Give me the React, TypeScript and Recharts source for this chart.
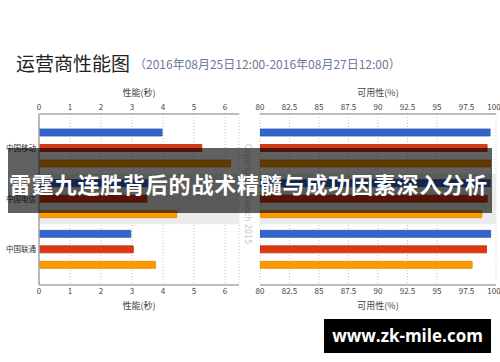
import { Bar, BarChart, CartesianGrid, ReferenceArea, XAxis, YAxis } from "recharts";

const carriers = ["中国移动", "中国电信", "中国联通"];

// performance (seconds), three series per carrier: blue / red / orange
const perfBlue = [3.97, 3.5, 2.96];
const perfRed = [5.25, 3.48, 3.04];
const perfOrange = [6.18, 4.44, 3.76];

// availability (%)
const availBlue = [99.5, 99.5, 99.55];
const availRed = [99.25, 99.26, 99.2];
const availOrange = [99.55, 98.8, 97.98];

const perfTicks = [0, 1, 2, 3, 4, 5, 6];
const availTicks = [80, 82.5, 85, 87.5, 90, 92.5, 95, 97.5, 100];

const perfData = carriers.map((name, i) => ({ name, a: perfBlue[i], b: perfRed[i], c: perfOrange[i] }));
const availData = carriers.map((name, i) => ({ name, a: availBlue[i], b: availRed[i], c: availOrange[i] }));

const BORDER = { stroke: "#a6a6a6", strokeWidth: 1.5 };
const TICK = { fontSize: 8, fill: "#444" };

function Panel(props: {
  data: any[];
  domain: [number, number];
  ticks: number[];
  title: string;
  showNames: boolean;
  margin: { top: number; right: number; bottom: number; left: number };
}) {
  const { data, domain, ticks, title, showNames, margin } = props;
  return (
    <BarChart
      width={250}
      height={362}
      data={data}
      layout="vertical"
      margin={margin}
      barSize={7}
      barGap={8.5}
    >
      <ReferenceArea xAxisId="top" y1="中国电信" y2="中国电信" fill="#ebebeb" fillOpacity={1} />
      <CartesianGrid xAxisId="top" horizontal={false} stroke="#c4c4c4" strokeDasharray="1 2" />
      <XAxis
        xAxisId="top"
        orientation="top"
        type="number"
        domain={domain}
        ticks={ticks}
        allowDataOverflow
        height={28}
        tickSize={0}
        tickMargin={4}
        axisLine={BORDER}
        tick={TICK}
        label={{ value: title, position: "insideTop", offset: 4, fontSize: 9, fill: "#444" }}
      />
      <XAxis
        xAxisId="bottom"
        orientation="bottom"
        type="number"
        domain={domain}
        ticks={ticks}
        allowDataOverflow
        height={26}
        tickSize={0}
        tickMargin={3}
        axisLine={BORDER}
        tick={TICK}
        label={{ value: title, position: "insideBottom", offset: 2, fontSize: 9, fill: "#444" }}
      />
      <YAxis
        type="category"
        dataKey="name"
        width={showNames ? 39 : 0}
        padding={{ top: 9, bottom: 10 }}
        tickSize={0}
        tickMargin={3}
        tick={showNames ? { fontSize: 7.5, fill: "#333" } : false}
        axisLine={BORDER}
      />
      <YAxis
        yAxisId="r"
        orientation="right"
        type="category"
        dataKey="name"
        width={0}
        tick={false}
        tickLine={false}
        axisLine={BORDER}
      />
      <Bar xAxisId="top" dataKey="a" fill="#3366cc" stroke="#2a56b0" strokeWidth={0.8} isAnimationActive={false} />
      <Bar xAxisId="top" dataKey="b" fill="#dc3912" stroke="#b82e0e" strokeWidth={0.8} isAnimationActive={false} />
      <Bar xAxisId="top" dataKey="c" fill="#ff9900" stroke="#e08600" strokeWidth={0.8} isAnimationActive={false} />
    </BarChart>
  );
}

export default function App() {
  return (
    <div
      style={{
        position: "absolute",
        left: 0,
        top: 0,
        width: 500,
        height: 362,
        background: "#fff",
        overflow: "hidden",
        fontFamily: '"Noto Sans CJK SC", "Noto Sans", sans-serif',
      }}
    >
      <div style={{ position: "absolute", left: 16, top: 53, fontSize: 19, lineHeight: "20px", color: "#222", whiteSpace: "nowrap" }}>
        运营商性能图
      </div>
      <div style={{ position: "absolute", left: 134, top: 56, fontSize: 12, lineHeight: "16px", color: "#6b7b95", whiteSpace: "nowrap" }}>
        （2016年08月25日12:00-2016年08月27日12:00）
      </div>

      <div style={{ position: "absolute", left: 0, top: 0 }}>
        <Panel
          data={perfData}
          domain={[0, 6.45]}
          ticks={perfTicks}
          title="性能(秒)"
          showNames
          margin={{ top: 86, right: 11, bottom: 51, left: 0 }}
        />
      </div>
      <div style={{ position: "absolute", left: 250, top: 0 }}>
        <Panel
          data={availData}
          domain={[80, 100]}
          ticks={availTicks}
          title="可用性(%)"
          showNames={false}
          margin={{ top: 86, right: 4, bottom: 51, left: 10 }}
        />
      </div>

      <div
        style={{
          position: "absolute",
          left: 247,
          top: 194,
          transform: "translate(-50%, -50%) rotate(90deg)",
          fontSize: 8,
          color: "#c8c8c8",
          whiteSpace: "nowrap",
          fontFamily: '"DejaVu Sans", sans-serif',
        }}
      >
        Copyright webench 2015
      </div>

      <div style={{ position: "absolute", left: 8, top: 148, width: 484, height: 65, background: "rgba(0,0,0,0.62)" }} />
      <div
        style={{
          position: "absolute",
          left: 9,
          top: 168,
          fontSize: 22,
          lineHeight: "30px",
          letterSpacing: 0.8,
          fontWeight: 700,
          color: "#fff",
          whiteSpace: "nowrap",
        }}
      >
        雷霆九连胜背后的战术精髓与成功因素深入分析
      </div>

      <div
        style={{
          position: "absolute",
          left: 324,
          top: 319,
          width: 167,
          height: 34,
          background: "#000",
          color: "#fff",
          fontFamily: '"Open Sans", sans-serif',
          fontWeight: 700,
          fontSize: 17,
          lineHeight: "34px",
          textAlign: "center",
        }}
      >
        www.zk-mile.com
      </div>
    </div>
  );
}
